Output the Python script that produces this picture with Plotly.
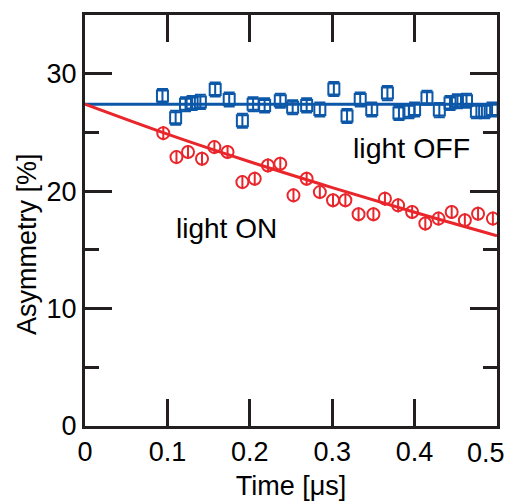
import plotly.graph_objects as go

# ---- data ----
t_off = [0.094, 0.110, 0.122, 0.130, 0.140, 0.158, 0.175, 0.191, 0.204, 0.218,
         0.237, 0.252, 0.269, 0.285, 0.302, 0.318, 0.334, 0.348, 0.367, 0.381,
         0.393, 0.400, 0.415, 0.430, 0.443, 0.452, 0.463, 0.475, 0.485, 0.494]
a_off = [28.1, 26.25, 27.4, 27.5, 27.6, 28.65, 27.8, 26.0, 27.4, 27.3,
         27.7, 27.15, 27.3, 26.95, 28.7, 26.4, 27.8, 26.95, 28.35, 26.65,
         26.8, 26.95, 27.95, 26.9, 27.5, 27.65, 27.7, 26.8, 26.8, 26.95]
err_off = [0.6] * len(t_off)

t_on = [0.095, 0.111, 0.125, 0.142, 0.157, 0.173, 0.191, 0.206, 0.222, 0.237,
        0.253, 0.269, 0.285, 0.301, 0.316, 0.332, 0.350, 0.364, 0.380, 0.397,
        0.413, 0.429, 0.445, 0.461, 0.477, 0.495]
a_on = [24.94, 22.9, 23.33, 22.76, 23.75, 23.33, 20.77, 21.06, 22.19, 22.33,
        19.64, 21.06, 19.92, 19.22, 19.22, 18.03, 18.03, 19.36, 18.79, 18.22,
        17.24, 17.66, 18.22, 17.52, 18.08, 17.66]
err_on = [0.6] * len(t_on)

fit_off_t = [0.0, 0.5]
fit_off_a = [27.4, 27.4]
fit_on_t = [0.0, 0.1, 0.2, 0.3, 0.4, 0.5]
fit_on_a = [27.4, 24.85, 22.5, 20.3, 18.2, 16.2]

x_ticks = [0, 0.1, 0.2, 0.3, 0.4, 0.5]
x_tick_text = ["0", "0.1", "0.2", "0.3", "0.4", ""]
x_last_label = "0.5"
y_ticks = [0, 10, 20, 30]
y_tick_text = ["0", "10", "20", "30"]

BLUE = "#0d57a8"
RED = "#e9262b"
AX = "#231f20"
FONT = "Liberation Sans, Arial, sans-serif"

fig = go.Figure()
fig.add_trace(go.Scatter(x=fit_off_t, y=fit_off_a, mode="lines",
                         line=dict(color=BLUE, width=3), showlegend=False))
fig.add_trace(go.Scatter(x=fit_on_t, y=fit_on_a, mode="lines",
                         line=dict(color=RED, width=3, shape="spline"), showlegend=False))
fig.add_trace(go.Scatter(
    x=t_off, y=a_off, mode="markers", cliponaxis=False,
    marker=dict(symbol="square-open", size=11, color=BLUE, line=dict(width=2, color=BLUE)),
    error_y=dict(type="data", array=err_off, color=BLUE, thickness=2, width=5.5),
    showlegend=False))
fig.add_trace(go.Scatter(
    x=t_on, y=a_on, mode="markers", cliponaxis=False,
    marker=dict(symbol="circle-open", size=12, color=RED, line=dict(width=2, color=RED)),
    error_y=dict(type="data", array=err_on, color=RED, thickness=2, width=0),
    showlegend=False))

fig.add_annotation(x=0.396, y=23.7, xref="x", yref="y", text="light OFF", showarrow=False,
                   font=dict(family=FONT, size=28.5, color="black"))
fig.add_annotation(x=0.172, y=16.8, xref="x", yref="y", text="light ON", showarrow=False,
                   font=dict(family=FONT, size=28, color="black"))
fig.add_annotation(x=-0.1408, y=0.443, xref="paper", yref="paper", text="Asymmetry [%]",
                   textangle=-90, showarrow=False, xanchor="center", yanchor="middle",
                   font=dict(family=FONT, size=27, color="black"))
fig.add_annotation(x=0.4867, y=-0.0657, xref="x", yref="paper", text=x_last_label,
                   showarrow=False, xanchor="center", yanchor="middle",
                   font=dict(family=FONT, size=27, color="black"))

fig.update_xaxes(range=[0, 0.5], tickvals=x_ticks, ticktext=x_tick_text,
                 ticks="inside", ticklen=27, tickwidth=3, tickcolor=AX,
                 showline=True, linewidth=3, linecolor=AX, mirror="ticks",
                 showgrid=False, zeroline=False,
                 tickfont=dict(family=FONT, size=27, color="black"),
                 title=dict(text="Time [μs]", standoff=10,
                            font=dict(family=FONT, size=27, color="black")))
fig.update_yaxes(range=[0, 35], tickvals=y_ticks, ticktext=y_tick_text,
                 ticks="inside", ticklen=27, tickwidth=3, tickcolor=AX,
                 minor=dict(tickvals=[5, 15, 25], ticks="inside", ticklen=14,
                            tickwidth=3, tickcolor=AX, showgrid=False),
                 showline=True, linewidth=3, linecolor=AX, mirror="ticks",
                 showgrid=False, zeroline=False,
                 tickfont=dict(family=FONT, size=27, color="black"))

fig.update_layout(width=505, height=502,
                  margin=dict(l=85, r=8, t=15, b=76, autoexpand=False),
                  paper_bgcolor="white", plot_bgcolor="white",
                  font=dict(family=FONT))
fig.write_html("out.html", config={"displayModeBar": False},
               post_script="document.body.style.margin='0';document.body.style.overflow='hidden';")
